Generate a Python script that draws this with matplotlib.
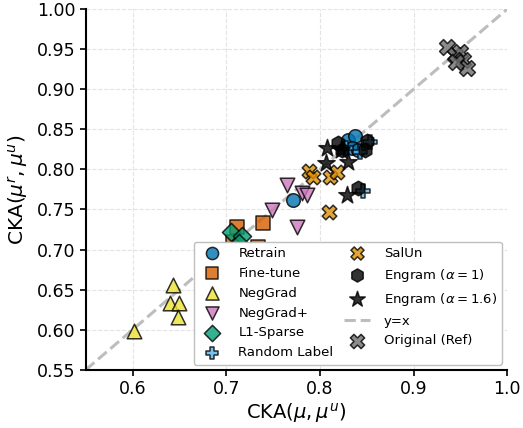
import matplotlib
matplotlib.use('Agg')
import matplotlib.pyplot as plt
import numpy as np

# CKA(mu, mu^u) on x, CKA(mu^r, mu^u) on y, one list pair per method
retrain_x = [0.771, 0.830, 0.837, 0.834, 0.841]
retrain_y = [0.762, 0.837, 0.842, 0.827, 0.824]

finetune_x = [0.711, 0.739, 0.734, 0.707]
finetune_y = [0.728, 0.733, 0.703, 0.709]

neggrad_x = [0.643, 0.640, 0.649, 0.648, 0.601]
neggrad_y = [0.656, 0.633, 0.633, 0.616, 0.599]

neggradp_x = [0.765, 0.781, 0.786, 0.749, 0.776]
neggradp_y = [0.781, 0.771, 0.768, 0.749, 0.728]

l1_x = [0.705, 0.717, 0.714, 0.718]
l1_y = [0.722, 0.717, 0.708, 0.697]

randlabel_x = [0.853, 0.843, 0.846, 0.828]
randlabel_y = [0.834, 0.822, 0.773, 0.826]

salun_x = [0.788, 0.793, 0.811, 0.818, 0.810]
salun_y = [0.798, 0.791, 0.791, 0.797, 0.747]

engram1_x = [0.819, 0.824, 0.850, 0.848, 0.841]
engram1_y = [0.833, 0.824, 0.835, 0.824, 0.777]

engram16_x = [0.808, 0.806, 0.830, 0.829, 0.822]
engram16_y = [0.827, 0.808, 0.809, 0.768, 0.824]

orig_x = [0.936, 0.944, 0.950, 0.953, 0.957, 0.945]
orig_y = [0.953, 0.943, 0.946, 0.936, 0.926, 0.934]

fig = plt.figure(figsize=(5.23, 4.28), dpi=100)
ax = fig.add_axes([0.164, 0.136, 0.806, 0.843])

ax.grid(True, ls='--', color='#e3e3e3', lw=0.8, zorder=0)
ax.set_axisbelow(True)

kw = dict(edgecolors='black', linewidths=1.1, alpha=0.8, zorder=3)
ax.scatter(retrain_x, retrain_y, marker='o', s=95, color='#0173B2', label='Retrain', **kw)
ax.scatter(finetune_x, finetune_y, marker='s', s=95, color='#D55E00', label='Fine-tune', **kw)
ax.scatter(neggrad_x, neggrad_y, marker='^', s=110, color='#ECE133', label='NegGrad', **kw)
ax.scatter(neggradp_x, neggradp_y, marker='v', s=110, color='#CC78BC', label='NegGrad+', **kw)
ax.scatter(l1_x, l1_y, marker='D', s=85, color='#029E73', label='L1-Sparse', **kw)
ax.scatter(randlabel_x, randlabel_y, marker='P', s=95, color='#56B4E9', label='Random Label', **kw)
ax.scatter(salun_x, salun_y, marker='X', s=110, color='#DE8F05', label='SalUn', **kw)
ax.scatter(engram1_x, engram1_y, marker='h', s=110, color='black', label=r'Engram ($\alpha=1$)', **kw)
ax.scatter(engram16_x, engram16_y, marker='*', s=170, color='black', label=r'Engram ($\alpha=1.6$)', **kw)
lims = np.array([0.55, 1.0])
ax.plot(lims, lims, ls='--', color='#bdbdbd', lw=2.2, label='y=x', zorder=2)
ax.scatter(orig_x, orig_y, marker='X', s=130, color='#6e6e6e', label='Original (Ref)', **kw)

ax.set_xlim(0.55, 1.0)
ax.set_ylim(0.55, 1.0)
ax.set_xticks([0.6, 0.7, 0.8, 0.9, 1.0])
ax.set_xticklabels(['0.6', '0.7', '0.8', '0.9', '1.0'])
ax.set_yticks(np.arange(0.55, 1.001, 0.05))
ax.set_yticklabels(['%.2f' % v for v in np.arange(0.55, 1.001, 0.05)])
ax.tick_params(labelsize=12.5, width=1.2, length=4)
for s in ['top', 'right']:
    ax.spines[s].set_visible(False)
for s in ['left', 'bottom']:
    ax.spines[s].set_linewidth(1.5)

ax.set_xlabel(r'CKA($\mu,\mu^u$)', fontsize=14, labelpad=2)
ax.set_ylabel(r'CKA($\mu^r,\mu^u$)', fontsize=14.5, labelpad=4)

ax.legend(loc='lower right', ncol=2, fontsize=9.5, frameon=True, framealpha=1.0,
          edgecolor='#bfbfbf', columnspacing=0.8, handletextpad=1.0,
          borderaxespad=0.4, labelspacing=0.52, markerscale=0.9)

fig.savefig('out.png', dpi=100)
